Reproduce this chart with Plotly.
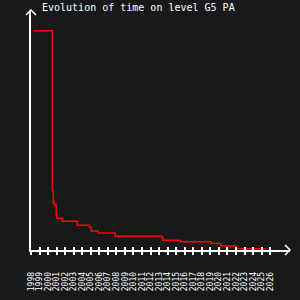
import plotly.graph_objects as go

# Step data (year, time value)
years = [1998.35, 2000.49, 2000.61, 2000.73, 2000.96, 2001.04, 2001.67, 2003.42,
         2004.83, 2005.06, 2005.88, 2007.87, 2013.37, 2013.49, 2015.53, 2019.11,
         2020.21, 2021.97, 2025.48]
time_values = [219.3, 60, 46.7, 45, 35, 31.7, 28.7, 24.7,
               23, 19, 17, 13.7, 11.7, 9.7, 8.3, 6.7,
               4, 1.3, 1.3]
tick_years = list(range(1998, 2027))
tick_labels = [str(y) for y in tick_years]

BG = "#18191b"
FONT = "DejaVu Sans Mono"
x_range = [1998, 1998 + 259 / 8.54]
y_range = [0, 240]

fig = go.Figure()
fig.add_trace(go.Scatter(x=years, y=time_values, mode="lines",
                         line=dict(color="#ff0000", width=1.5, shape="hv"),
                         hoverinfo="skip", showlegend=False))

fig.update_layout(
    width=300, height=300,
    margin=dict(l=31, r=10, t=10, b=50),
    paper_bgcolor=BG, plot_bgcolor=BG,
    title=dict(text="Evolution of time on level G5 PA",
               font=dict(family=FONT, size=10, color="#ffffff"),
               xref="container", yref="container",
               x=42 / 300, xanchor="left", y=1 - 7.5 / 300, yanchor="middle"),
    xaxis=dict(range=x_range, tickvals=tick_years, ticktext=tick_labels,
               tickangle=-90, ticks="outside", ticklen=3, tickwidth=1.5,
               tickcolor="#ffffff", showline=True, linecolor="#ffffff",
               linewidth=1.5, showgrid=False, zeroline=False,
               tickfont=dict(family=FONT, size=8, color="#ffffff"),
               ticklabelstandoff=14),
    xaxis2=dict(range=x_range, overlaying="x", anchor="y", side="bottom",
                tickvals=tick_years, ticks="inside", ticklen=3, tickwidth=1.5,
                tickcolor="#ffffff", showticklabels=False, showgrid=False,
                zeroline=False, showline=False),
    yaxis=dict(range=y_range, showline=True, linecolor="#ffffff", linewidth=1.5,
               showticklabels=False, ticks="", showgrid=False, zeroline=False),
    shapes=[
        dict(type="path", xref="paper", yref="paper", xsizemode="pixel",
             ysizemode="pixel", xanchor=0, yanchor=1,
             path="M -5,-5 L 0,0 L 5,-5", line=dict(color="#ffffff", width=1.5)),
        dict(type="path", xref="paper", yref="paper", xsizemode="pixel",
             ysizemode="pixel", xanchor=1, yanchor=0,
             path="M -5,5 L 0,0 L -5,-5", line=dict(color="#ffffff", width=1.5)),
    ],
)
# dummy trace to activate xaxis2
fig.add_trace(go.Scatter(x=[None], y=[None], xaxis="x2", showlegend=False,
                         hoverinfo="skip"))

fig.write_html("out.html")
